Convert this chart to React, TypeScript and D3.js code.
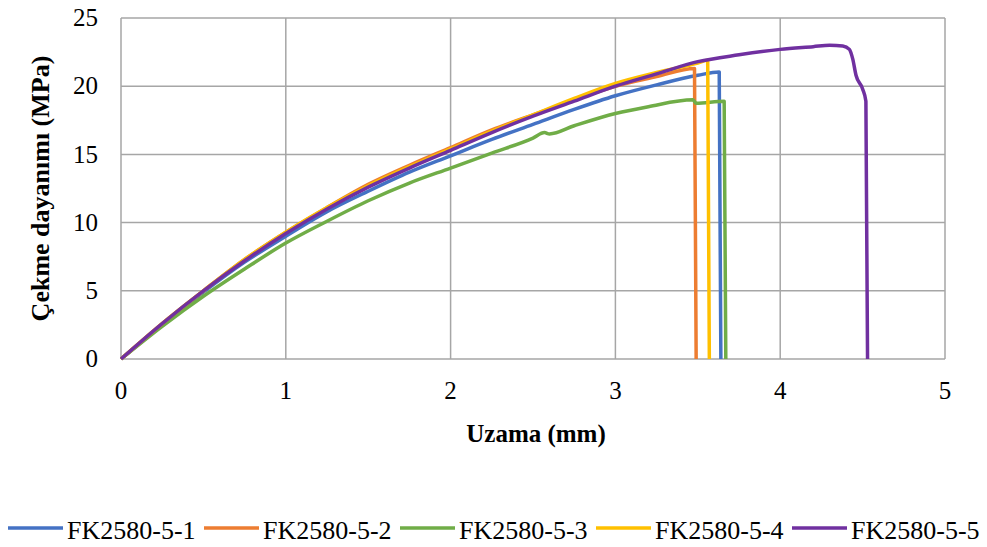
import React from "react";
import * as d3 from "d3";

type P = [number, number];

const seriesNames = ["FK2580-5-1", "FK2580-5-2", "FK2580-5-3", "FK2580-5-4", "FK2580-5-5"];
const seriesColors = ["#4472C4", "#ED7D31", "#70AD47", "#FFC000", "#7030A0"];

const s1: P[] = [[0,0],[0.25,2.5],[0.5,4.9],[0.75,7.1],[1,9.0],[1.25,10.8],[1.5,12.3],[1.75,13.7],[2,14.9],[2.25,16.1],[2.5,17.2],[2.75,18.3],[3,19.3],[3.25,20.1],[3.5,20.8],[3.63,21.05],[3.64,0]];
const s2: P[] = [[0,0],[0.25,2.6],[0.5,5.0],[0.75,7.3],[1,9.3],[1.25,11.1],[1.5,12.8],[1.75,14.2],[2,15.5],[2.25,16.8],[2.5,17.9],[2.75,19.0],[3,20.0],[3.25,20.7],[3.48,21.3],[3.49,0]];
const s3: P[] = [[0,0],[0.25,2.4],[0.5,4.6],[0.75,6.6],[1,8.5],[1.25,10.1],[1.5,11.6],[1.75,12.9],[2,14.0],[2.25,15.1],[2.5,16.2],[2.57,16.6],[2.6,16.5],[2.75,17.1],[3,18.0],[3.2,18.5],[3.47,19.0],[3.49,18.75],[3.66,18.9],[3.67,0]];
const s4: P[] = [[0,0],[0.25,2.6],[0.5,5.0],[0.75,7.3],[1,9.3],[1.25,11.1],[1.5,12.7],[1.75,14.1],[2,15.4],[2.25,16.7],[2.5,17.9],[2.75,19.1],[3,20.2],[3.25,21.0],[3.5,21.7],[3.56,21.9],[3.57,0]];
const s5: P[] = [[0,0],[0.25,2.6],[0.5,5.0],[0.75,7.2],[1,9.2],[1.25,11.0],[1.5,12.6],[1.75,14.0],[2,15.3],[2.25,16.6],[2.5,17.8],[2.75,18.9],[3,20.0],[3.25,20.9],[3.5,21.8],[3.75,22.3],[4,22.7],[4.2,22.9],[4.3,23.0],[4.38,22.95],[4.42,22.7],[4.44,22.0],[4.46,20.8],[4.5,19.8],[4.52,18.9],[4.53,0]];
const seriesData = [s1, s2, s3, s4, s5];

const xTicks = [0, 1, 2, 3, 4, 5];
const yTicks = [0, 5, 10, 15, 20, 25];

const W = 987, H = 547;
const L = 121, R = 945, T = 18, B = 359;

export default function App() {
  const x = d3.scaleLinear().domain([0, 5]).range([L, R]);
  const y = d3.scaleLinear().domain([0, 25]).range([B, T]);
  const line = d3.line<P>().x(d => x(d[0])).y(d => y(d[1])).curve(d3.curveMonotoneX);
  const font = "'Liberation Serif', 'Times New Roman', serif";
  return (
    <svg width={W} height={H} style={{ position: "absolute", left: 0, top: 0, background: "#fff" }} fontFamily={font}>
      <rect x={0} y={0} width={W} height={H} fill="#fff" />
      {yTicks.map(t => (
        <line key={"gy" + t} x1={L} x2={R} y1={y(t)} y2={y(t)} stroke="#a6a6a6" strokeWidth={1.5} />
      ))}
      {xTicks.map(t => (
        <line key={"gx" + t} x1={x(t)} x2={x(t)} y1={T} y2={B} stroke="#a6a6a6" strokeWidth={1.5} />
      ))}
      {yTicks.map(t => (
        <text key={"ty" + t} x={98} y={y(t)} dy="0.33em" textAnchor="end" fontSize={25} fill="#000">{t}</text>
      ))}
      {xTicks.map(t => (
        <text key={"tx" + t} x={x(t)} y={399} textAnchor="middle" fontSize={25} fill="#000">{t}</text>
      ))}
      {seriesData.map((d, i) => (
        <path key={"s" + i} d={line(d) || ""} fill="none" stroke={seriesColors[i]} strokeWidth={3.5} strokeLinejoin="round" />
      ))}
      <text x={536} y={442} textAnchor="middle" fontSize={25} fontWeight="bold" fill="#000">Uzama (mm)</text>
      <text transform={`translate(49,${(T + B) / 2}) rotate(-90)`} textAnchor="middle" fontSize={26} fontWeight="bold" fill="#000">Çekme dayanımı (MPa)</text>
      {seriesNames.map((n, i) => (
        <g key={"lg" + i} transform={`translate(${8 + i * 196},0)`}>
          <line x1={0} x2={55} y1={528} y2={528} stroke={seriesColors[i]} strokeWidth={3.5} />
          <text x={59} y={539} fontSize={26} fill="#000">{n}</text>
        </g>
      ))}
    </svg>
  );
}
